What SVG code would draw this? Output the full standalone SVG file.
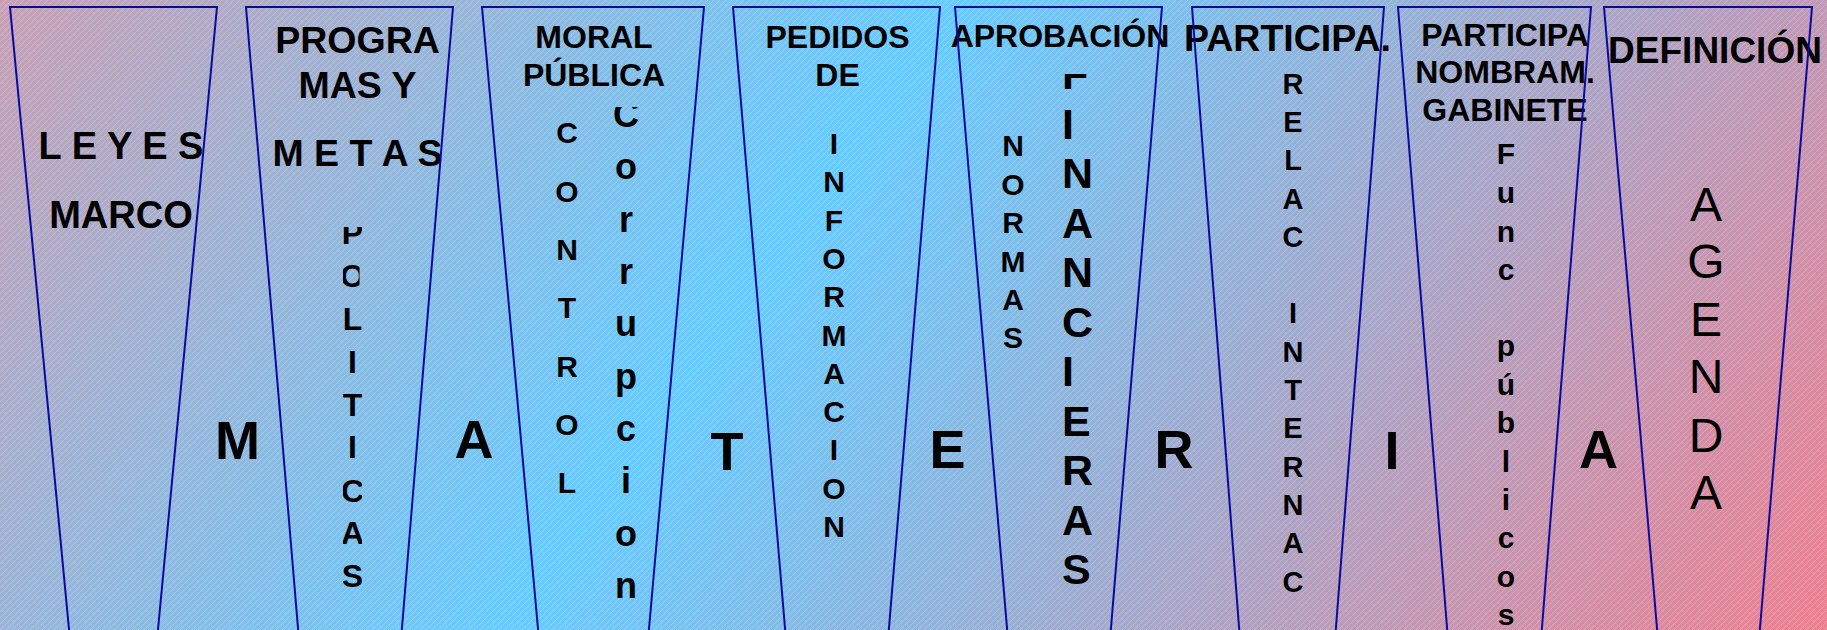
<svg xmlns="http://www.w3.org/2000/svg" width="1827" height="630" viewBox="0 0 1827 630">
<defs>
<linearGradient id="bg" gradientUnits="userSpaceOnUse" x1="0" y1="0" x2="1512" y2="1074">
<stop offset="0" stop-color="#c8a0b4"/>
<stop offset="0.418" stop-color="#66ccff"/>
<stop offset="1" stop-color="#ee8090"/>
</linearGradient>
<pattern id="hatch" width="6" height="6" patternUnits="userSpaceOnUse">
<path d="M-1,7 L7,-1 M-1,1 L1,-1 M5,7 L7,5" stroke="#ffffff" stroke-opacity="0.3" stroke-width="0.7"/>
</pattern>
<clipPath id="cPol"><rect x="343" y="227" width="19" height="410"/></clipPath>
<clipPath id="cPolO"><rect x="343" y="250" width="16.5" height="50"/></clipPath>
<clipPath id="cCor"><rect x="590" y="107" width="80" height="530"/></clipPath>
<clipPath id="cFin"><rect x="1040" y="74" width="80" height="560"/></clipPath>
</defs>
<style>
.tz{fill:none;stroke:#0a0a9e;stroke-width:2}
.b{font-family:"Liberation Sans",Arial,sans-serif;font-weight:bold;fill:#000;text-anchor:middle}
.r{font-family:"Liberation Sans",Arial,sans-serif;font-weight:normal;fill:#000;text-anchor:middle}
.big{font-size:54px}
</style>
<rect x="0" y="0" width="1827" height="630" fill="url(#bg)"/>
<rect x="0" y="0" width="1827" height="630" fill="url(#hatch)"/>

<g id="connectors"/>

<g id="node-leyes">
<text class="b" font-size="38" x="121" y="159">L E Y E S</text>
<text class="b" font-size="38" x="121" y="228">MARCO</text>
<polygon class="tz" points="10,7 217,7 157,640 70,640"/>
</g>

<g id="node-programas">
<text class="b" font-size="37.5" x="357.5" y="53">PROGRA</text>
<text class="b" font-size="37.5" x="357.5" y="98">MAS Y</text>
<text class="b" font-size="37.5" x="357.5" y="166">M E T A S</text>
<text class="b" font-size="32" clip-path="url(#cPol)"><tspan x="352.5" y="244">P</tspan><tspan x="352.5" y="330">L</tspan><tspan x="352.5" y="373">I</tspan><tspan x="352.5" y="416">T</tspan><tspan x="352.5" y="458">I</tspan><tspan x="352.5" y="502">C</tspan><tspan x="352.5" y="544">A</tspan><tspan x="352.5" y="587">S</tspan></text>
<text class="b" font-size="32" clip-path="url(#cPolO)" x="352.5" y="287">O</text>
<polygon class="tz" points="246,7 453,7 401,640 299,640"/>
</g>

<g id="node-moral">
<text class="b" font-size="32" x="594" y="48">MORAL</text>
<text class="b" font-size="32" x="594" y="86">PÚBLICA</text>
<text class="b" font-size="30"><tspan x="567" y="143">C</tspan><tspan x="567" y="202">O</tspan><tspan x="567" y="260">N</tspan><tspan x="567" y="318">T</tspan><tspan x="567" y="377">R</tspan><tspan x="567" y="435">O</tspan><tspan x="567" y="493">L</tspan></text>
<text class="b" font-size="36" clip-path="url(#cCor)"><tspan x="626" y="127">C</tspan><tspan x="626" y="179">o</tspan><tspan x="626" y="232">r</tspan><tspan x="626" y="284">r</tspan><tspan x="626" y="336">u</tspan><tspan x="626" y="389">p</tspan><tspan x="626" y="441">c</tspan><tspan x="626" y="493">i</tspan><tspan x="626" y="546">o</tspan><tspan x="626" y="598">n</tspan></text>
<polygon class="tz" points="482,7 704,7 648,640 539,640"/>
</g>

<g id="node-pedidos">
<text class="b" font-size="32" x="837.5" y="48">PEDIDOS</text>
<text class="b" font-size="32" x="837.5" y="86">DE</text>
<text class="b" font-size="30"><tspan x="834" y="154">I</tspan><tspan x="834" y="192">N</tspan><tspan x="834" y="231">F</tspan><tspan x="834" y="269">O</tspan><tspan x="834" y="307">R</tspan><tspan x="834" y="346">M</tspan><tspan x="834" y="384">A</tspan><tspan x="834" y="422">C</tspan><tspan x="834" y="460">I</tspan><tspan x="834" y="499">O</tspan><tspan x="834" y="537">N</tspan></text>
<polygon class="tz" points="733,7 940,7 888,640 786,640"/>
</g>

<g id="node-aprobacion">
<text class="b" font-size="32" x="1060" y="47">APROBACIÓN</text>
<text class="b" font-size="30"><tspan x="1013" y="156">N</tspan><tspan x="1013" y="195">O</tspan><tspan x="1013" y="233">R</tspan><tspan x="1013" y="272">M</tspan><tspan x="1013" y="310">A</tspan><tspan x="1013" y="348">S</tspan></text>
<text class="b" font-size="43" style="text-anchor:start" clip-path="url(#cFin)"><tspan x="1062" y="89">F</tspan><tspan x="1062" y="138.5">I</tspan><tspan x="1062" y="188">N</tspan><tspan x="1062" y="237.5">A</tspan><tspan x="1062" y="287">N</tspan><tspan x="1062" y="336.5">C</tspan><tspan x="1062" y="386">I</tspan><tspan x="1062" y="435.5">E</tspan><tspan x="1062" y="485">R</tspan><tspan x="1062" y="534.5">A</tspan><tspan x="1062" y="584">S</tspan></text>
<polygon class="tz" points="955,7 1162,7 1110,640 1008,640"/>
</g>

<g id="node-participa">
<text class="b" font-size="37.5" x="1287.5" y="51">PARTICIPA.</text>
<text class="b" font-size="29"><tspan x="1293" y="94">R</tspan><tspan x="1293" y="132">E</tspan><tspan x="1293" y="170">L</tspan><tspan x="1293" y="209">A</tspan><tspan x="1293" y="247">C</tspan><tspan x="1293" y="323">I</tspan><tspan x="1293" y="362">N</tspan><tspan x="1293" y="400">T</tspan><tspan x="1293" y="438">E</tspan><tspan x="1293" y="477">R</tspan><tspan x="1293" y="515">N</tspan><tspan x="1293" y="553">A</tspan><tspan x="1293" y="592">C</tspan></text>
<polygon class="tz" points="1192,7 1384,7 1335,640 1240,640"/>
</g>

<g id="node-gabinete">
<text class="b" font-size="32" x="1505" y="46">PARTICIPA</text>
<text class="b" font-size="32" x="1505" y="83">NOMBRAM.</text>
<text class="b" font-size="32" x="1505" y="121">GABINETE</text>
<text class="b" font-size="30"><tspan x="1506" y="164">F</tspan><tspan x="1506" y="203">u</tspan><tspan x="1506" y="242">n</tspan><tspan x="1506" y="280">c</tspan><tspan x="1506" y="356">p</tspan><tspan x="1506" y="395">ú</tspan><tspan x="1506" y="433">b</tspan><tspan x="1506" y="472">l</tspan><tspan x="1506" y="510">i</tspan><tspan x="1506" y="548">c</tspan><tspan x="1506" y="587">o</tspan><tspan x="1506" y="625">s</tspan></text>
<polygon class="tz" points="1398,7 1591,7 1541,640 1448,640"/>
</g>

<g id="node-definicion">
<text class="b" font-size="37" x="1715" y="63">DEFINICIÓN</text>
<text class="r" font-size="48"><tspan x="1706" y="221">A</tspan><tspan x="1706" y="278">G</tspan><tspan x="1706" y="336">E</tspan><tspan x="1706" y="393">N</tspan><tspan x="1706" y="452">D</tspan><tspan x="1706" y="509">A</tspan></text>
<polygon class="tz" points="1604,7 1812,7 1759,640 1658,640"/>
</g>

<g id="materia">
<text class="b big" x="237.5" y="459">M</text>
<text class="b big" x="474" y="458">A</text>
<text class="b big" x="727" y="470">T</text>
<text class="b big" x="947.5" y="468">E</text>
<text class="b big" x="1174" y="468">R</text>
<text class="b big" x="1392" y="469">I</text>
<text class="b big" x="1598.5" y="468">A</text>
</g>
</svg>
